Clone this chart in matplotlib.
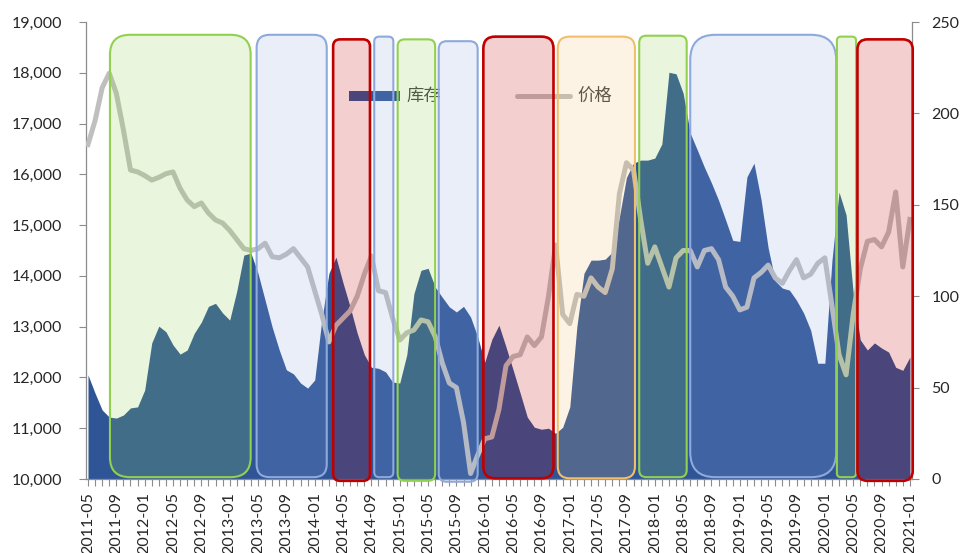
import matplotlib
matplotlib.use("Agg")
import matplotlib.pyplot as plt
import matplotlib.transforms as mtransforms
from matplotlib.patches import FancyBboxPatch, Rectangle
from matplotlib.ticker import FuncFormatter

plt.rcParams['font.family'] = ['Lato', 'Noto Sans CJK SC', 'DejaVu Sans']

# Monthly categories 2011-05 .. 2021-01
all_months = [f"{y}-{m:02d}" for y in range(2011, 2022) for m in range(1, 13)]
months = all_months[all_months.index("2011-05"):all_months.index("2021-01") + 1]

# 库存 (left axis)
inventory = [
    12050, 11690, 11360, 11220, 11200, 11260, 11400, 11420, 11750, 12680,
    13010, 12900, 12640, 12460, 12540, 12870, 13090, 13400, 13460, 13270,
    13130, 13700, 14410, 14450, 14050, 13520, 12990, 12540, 12150, 12070,
    11890, 11790, 11950, 13130, 14050, 14370, 13860, 13390, 12870, 12450,
    12200, 12180, 12110, 11910, 11890, 12450, 13650, 14110, 14150, 13780,
    13580, 13390, 13290, 13400, 13190, 12800, 12300, 12750, 13030, 12600,
    12150, 11690, 11220, 11020, 10980, 11000, 10900, 11020, 11420, 13000,
    14050, 14310, 14310, 14330, 14470, 15160, 15940, 16220, 16280, 16280,
    16320, 16600, 18010, 17980, 17600, 16810, 16480, 16140, 15830, 15490,
    15100, 14700, 14680, 15950, 16220, 15500, 14550, 13900, 13760, 13720,
    13520, 13270, 12930, 12280, 12280, 14300, 15650, 15200, 13660, 12740,
    12540, 12680, 12580, 12500, 12200, 12140, 12400,
]

# 价格 (right axis)
price = [
    183, 196, 214, 222, 211, 191, 169, 168, 166, 163.5,
    165, 167, 168, 159, 152.6, 149, 151, 145.5, 141.7, 140,
    136, 131, 126, 125, 126, 129, 121.6, 121, 123, 126,
    121, 116, 103, 90, 75, 84, 88, 92, 100, 112,
    122, 103, 102, 88, 76, 80, 81.5, 87, 86, 78,
    63.5, 52.5, 50, 31, 3, 13, 22, 23, 38, 62,
    67, 68, 77.7, 73, 77.7, 100, 128, 90, 85, 101,
    100, 110, 105, 102, 115, 156, 173, 169, 142, 118,
    127, 116, 105, 121, 125, 125, 116, 125, 126, 120,
    105, 100, 92.5, 94, 110, 113, 117, 110, 107, 114,
    120, 110, 112, 118, 121, 95, 68, 57, 90, 115,
    130, 131, 127, 135, 157, 116, 142,
]

left_ticks = list(range(10000, 19001, 1000))
right_ticks = list(range(0, 251, 50))

# Highlighted phases: start/end month position, top/bottom (axes fraction), corner radius (px), style
phases = [
    (3.1, 22.96, 0.972, 0.004, 20, 'green'),
    (23.8, 33.7, 0.972, 0.004, 13, 'blue'),
    (34.6, 39.8, 0.962, -0.004, 7, 'red'),
    (40.4, 43.1, 0.968, 0.004, 5, 'blue'),
    (43.7, 49.0, 0.962, -0.004, 7, 'green'),
    (49.5, 55.0, 0.958, -0.006, 8, 'blue'),
    (55.8, 65.7, 0.968, 0.0015, 12, 'red'),
    (66.3, 77.2, 0.968, 0.0015, 12, 'orange'),
    (77.8, 84.5, 0.970, 0.004, 7, 'green'),
    (85.0, 105.6, 0.972, 0.004, 25, 'blue'),
    (105.7, 108.4, 0.968, 0.004, 4, 'green'),
    (108.6, 116.4, 0.962, -0.004, 10, 'red'),
]
phase_styles = {
    'green': dict(color='#92D050', alpha=0.2, lw=1.5),
    'blue': dict(color='#8EA9DB', alpha=0.19, lw=1.5),
    'red': dict(color='#C00000', alpha=0.19, lw=1.9),
    'orange': dict(color='#F2BE6A', alpha=0.18, lw=1.5),
}

AREA_COLOR = '#2F5597'
LINE_COLOR = '#BFBFBF'
SPINE_COLOR = '#8C8C8C'
TEXT_COLOR = '#262626'

W, H, DPI = 961, 553, 100
fig = plt.figure(figsize=(W / DPI, H / DPI), dpi=DPI)
ax_l, ax_r, ax_t, ax_b = 85.5, 912.0, 22.0, 479.0
ax = fig.add_axes([ax_l / W, 1 - ax_b / H, (ax_r - ax_l) / W, (ax_b - ax_t) / H])
ax2 = ax.twinx()

x = list(range(len(months)))
xlim = (-0.35, 116.3)

# Inventory area
ax.fill_between(x, left_ticks[0], inventory, color=AREA_COLOR, lw=0, zorder=1)
ax.set_ylim(left_ticks[0], left_ticks[-1])
ax.set_xlim(*xlim)
ax.set_yticks(left_ticks)
ax.yaxis.set_major_formatter(FuncFormatter(lambda v, p: f"{int(v):,}"))

# Price line
ax2.plot(x, price, color=LINE_COLOR, lw=3.6, solid_joinstyle='round', zorder=2)
ax2.set_ylim(right_ticks[0], right_ticks[-1])
ax2.set_yticks(right_ticks)
ax2.set_xlim(*xlim)

# Axis styling
ax.set_xticks(x)
ax.set_xticklabels([m if i % 4 == 0 else '' for i, m in enumerate(months)],
                   rotation=90, fontsize=11.5, color=TEXT_COLOR)
ax.tick_params(axis='x', length=5, width=0.8, color=SPINE_COLOR, pad=4.5, direction='out')
ax.tick_params(axis='y', length=5, width=0.8, color=SPINE_COLOR, pad=12, labelsize=11.5,
               labelcolor=TEXT_COLOR)
ax2.tick_params(axis='y', length=5, width=0.8, color=SPINE_COLOR, pad=9, labelsize=11.5,
                labelcolor=TEXT_COLOR)
for a in (ax, ax2):
    a.spines['top'].set_visible(False)
    for s in ('left', 'right', 'bottom'):
        a.spines[s].set_color(SPINE_COLOR)
        a.spines[s].set_linewidth(0.9)
ax.spines['right'].set_visible(False)
ax2.spines['left'].set_visible(False)
ax2.spines['bottom'].set_visible(False)

# Legend (drawn beneath the phase overlays)
ta = ax2.transAxes
ax2.add_patch(Rectangle((0.3188, 0.827), 0.0617, 0.0215, transform=ta,
                        color=AREA_COLOR, lw=0, zorder=3))
ax2.text(0.3878, 0.838, '库存', transform=ta, fontsize=12.5, color='#404040',
         va='center', ha='left', zorder=3, family=['Noto Sans CJK SC'])
ax2.plot([0.5225, 0.5865], [0.838, 0.838], transform=ta, color=LINE_COLOR,
         lw=3.6, solid_capstyle='round', zorder=3)
ax2.text(0.5947, 0.838, '价格', transform=ta, fontsize=12.5, color='#404040',
         va='center', ha='left', zorder=3, family=['Noto Sans CJK SC'])

# Phase overlays: rounded boxes, x in month positions, y in axes fraction
px_per_month = (ax_r - ax_l) / (xlim[1] - xlim[0])
px_per_frac = ax_b - ax_t
aspect = px_per_month / px_per_frac
blend = mtransforms.blended_transform_factory(ax2.transData, ax2.transAxes)
for x0, x1, top, bot, rad, key in phases:
    st = phase_styles[key]
    rgba = matplotlib.colors.to_rgba(st['color'], st['alpha'])
    box = FancyBboxPatch((x0, bot), x1 - x0, top - bot,
                         boxstyle=f"round,pad=0,rounding_size={rad / px_per_month:.4f}",
                         mutation_aspect=aspect, transform=blend,
                         facecolor=rgba, edgecolor=st['color'], lw=st['lw'],
                         zorder=5, clip_on=False)
    ax2.add_patch(box)

fig.savefig('out.png', dpi=DPI)
